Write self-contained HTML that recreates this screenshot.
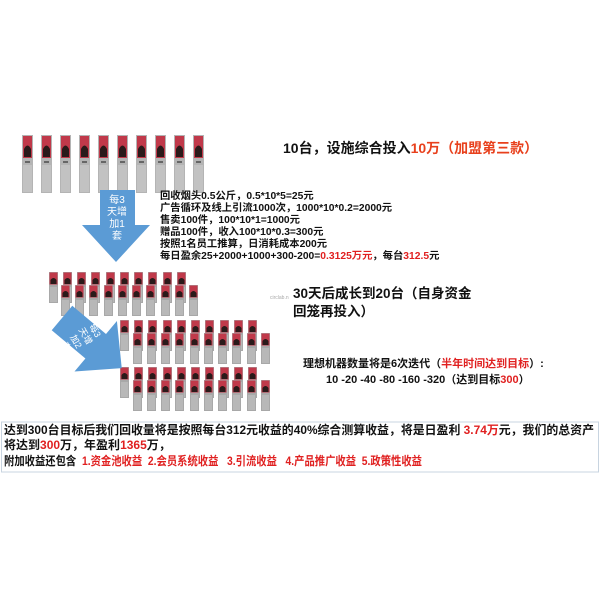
<!DOCTYPE html>
<html><head><meta charset="utf-8"><style>
html,body{margin:0;padding:0;background:#fff;}
svg{display:block;font-family:"Liberation Sans","Noto Sans CJK SC",sans-serif;}
</style></head><body>
<svg width="600" height="600" viewBox="0 0 600 600" xmlns="http://www.w3.org/2000/svg">
<defs>
<g id="kb">
<rect x="0" y="0" width="11" height="58" fill="#b4b4b4"/>
<rect x="1" y="1" width="9" height="22" fill="#c0394a"/>
<path d="M2 22 L2 14 Q5.5 7 9 14 L9 22Z" fill="#2a1a1a"/>
<rect x="3" y="26" width="5" height="2" fill="#666"/>
<rect x="1" y="30" width="9" height="27" fill="#c2c2c2"/>
</g>
<g id="ks">
<rect x="0" y="0" width="9" height="31" fill="#a8a8a8"/>
<rect x="0.5" y="0.5" width="8" height="12" fill="#c0394a"/>
<path d="M1.5 12 L1.5 8 Q4.5 4 7.5 8 L7.5 12Z" fill="#2a1a1a"/>
<rect x="1" y="15" width="7" height="15" fill="#b8b8b8"/>
</g>
</defs>

<g>
<use href="#kb" x="22" y="135"/><use href="#kb" x="41" y="135"/><use href="#kb" x="60" y="135"/><use href="#kb" x="79" y="135"/><use href="#kb" x="98" y="135"/><use href="#kb" x="117" y="135"/><use href="#kb" x="136" y="135"/><use href="#kb" x="155" y="135"/><use href="#kb" x="174" y="135"/><use href="#kb" x="193" y="135"/>
</g>

<polygon points="100,190 135,190 135,225 150,225 116,262 82,225 100,225" fill="#5b9bd5"/>
<g fill="#fff" font-size="10" text-anchor="middle">
<text x="117" y="203">每3</text><text x="117" y="215">天增</text><text x="117" y="227">加1</text><text x="117" y="239">套</text>
</g>

<g font-size="10.3" font-weight="bold" fill="#111">
<text x="160" y="199">回收烟头0.5公斤，0.5*10*5=25元</text>
<text x="160" y="211">广告循环及线上引流1000次，1000*10*0.2=2000元</text>
<text x="160" y="223">售卖100件，100*10*1=1000元</text>
<text x="160" y="235">赠品100件，收入100*10*0.3=300元</text>
<text x="160" y="247">按照1名员工推算，日消耗成本200元</text>
<text x="160" y="259">每日盈余25+2000+1000+300-200=<tspan fill="#e02020">0.3125万元</tspan>，每台<tspan fill="#e02020">312.5</tspan>元</text>
</g>

<text x="283" y="153" font-size="14" font-weight="bold" fill="#111">10台，设施综合投入<tspan fill="#e8401c">10万（加盟第三款）</tspan></text>

<g>
<use href="#ks" x="49" y="272"/><use href="#ks" x="63" y="272"/><use href="#ks" x="77" y="272"/><use href="#ks" x="91" y="272"/><use href="#ks" x="106" y="272"/><use href="#ks" x="120" y="272"/><use href="#ks" x="134" y="272"/><use href="#ks" x="148" y="272"/><use href="#ks" x="163" y="272"/><use href="#ks" x="177" y="272"/>
<use href="#ks" x="61" y="285"/><use href="#ks" x="75" y="285"/><use href="#ks" x="89" y="285"/><use href="#ks" x="104" y="285"/><use href="#ks" x="118" y="285"/><use href="#ks" x="132" y="285"/><use href="#ks" x="146" y="285"/><use href="#ks" x="161" y="285"/><use href="#ks" x="175" y="285"/><use href="#ks" x="189" y="285"/>
</g>

<g>
<use href="#ks" x="120" y="320"/><use href="#ks" x="134" y="320"/><use href="#ks" x="148" y="320"/><use href="#ks" x="163" y="320"/><use href="#ks" x="177" y="320"/><use href="#ks" x="191" y="320"/><use href="#ks" x="205" y="320"/><use href="#ks" x="220" y="320"/><use href="#ks" x="234" y="320"/><use href="#ks" x="248" y="320"/>
<use href="#ks" x="133" y="333"/><use href="#ks" x="147" y="333"/><use href="#ks" x="161" y="333"/><use href="#ks" x="175" y="333"/><use href="#ks" x="190" y="333"/><use href="#ks" x="204" y="333"/><use href="#ks" x="218" y="333"/><use href="#ks" x="232" y="333"/><use href="#ks" x="247" y="333"/><use href="#ks" x="261" y="333"/>
<use href="#ks" x="120" y="367"/><use href="#ks" x="134" y="367"/><use href="#ks" x="148" y="367"/><use href="#ks" x="163" y="367"/><use href="#ks" x="177" y="367"/><use href="#ks" x="191" y="367"/><use href="#ks" x="205" y="367"/><use href="#ks" x="220" y="367"/><use href="#ks" x="234" y="367"/><use href="#ks" x="248" y="367"/>
<use href="#ks" x="133" y="380"/><use href="#ks" x="147" y="380"/><use href="#ks" x="161" y="380"/><use href="#ks" x="175" y="380"/><use href="#ks" x="190" y="380"/><use href="#ks" x="204" y="380"/><use href="#ks" x="218" y="380"/><use href="#ks" x="232" y="380"/><use href="#ks" x="247" y="380"/><use href="#ks" x="261" y="380"/>
</g>

<g transform="translate(62,318) rotate(40)">
<polygon points="0,-16 44,-16 44,-33 78,0 44,33 44,16 0,16" fill="#5b9bd5"/>
</g>
<g transform="translate(82,338) rotate(60)" fill="#fff" font-size="9" text-anchor="middle">
<text x="0" y="-12">每3</text><text x="0" y="-1">天增</text><text x="0" y="10">加2</text><text x="0" y="21">套</text>
</g>

<text x="270" y="299" font-size="5" fill="#aaa">circlab.n</text>
<g font-size="13.5" font-weight="bold" fill="#111">
<text x="293" y="298">30天后成长到20台（自身资金</text>
<text x="293" y="316">回笼再投入）</text>
</g>
<g font-size="11" font-weight="bold" fill="#111">
<text x="303" y="367">理想机器数量将是6次迭代（<tspan fill="#e02020">半年时间达到目标</tspan>）:</text>
<text x="326" y="383">10 -20  -40 -80 -160 -320（达到目标<tspan fill="#e02020">300</tspan>）</text>
</g>

<rect x="1.5" y="422" width="597" height="50" fill="#fff" stroke="#c8d4e0" stroke-width="1"/>
<g font-size="12" font-weight="bold" fill="#111">
<text x="4" y="434" textLength="590" lengthAdjust="spacingAndGlyphs">达到300台目标后我们回收量将是按照每台312元收益的40%综合测算收益，将是日盈利 <tspan fill="#e02020">3.74万</tspan>元，我们的总资产</text>
<text x="4" y="449">将达到<tspan fill="#e02020">300</tspan>万，年盈利<tspan fill="#e02020">1365</tspan>万，</text>
<text x="4" y="465" textLength="418" lengthAdjust="spacingAndGlyphs" xml:space="preserve">附加收益还包含  <tspan fill="#e02020">1.资金池收益  2.会员系统收益   3.引流收益   4.产品推广收益  5.政策性收益</tspan></text>
</g>
</svg>
</body></html>
